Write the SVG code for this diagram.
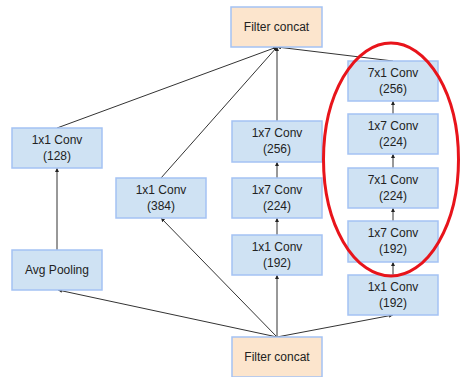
<svg xmlns="http://www.w3.org/2000/svg" width="460" height="377" viewBox="0 0 460 377">
<defs>
<style>
.box{fill:#cfe2f3;stroke:#a4c2f4;stroke-width:1.5}
.cat{fill:#fce5cd;stroke:#a4c2f4;stroke-width:1.5}
text{font-family:"Liberation Sans",Arial,sans-serif;font-size:12px;fill:#222;text-anchor:middle}
.e{stroke:#333;stroke-width:1;fill:none;marker-end:url(#ah)}
</style>
<marker id="ah" viewBox="0 0 6 6" refX="6" refY="3" markerWidth="4" markerHeight="4" orient="auto" markerUnits="userSpaceOnUse">
<path d="M0,0 L6,3 L0,6 z" fill="#222"/>
</marker>
</defs>
<rect width="460" height="377" fill="#fff"/>
<g id="connectors">
<line class="e" x1="277" y1="337" x2="58" y2="290"/>
<line class="e" x1="277" y1="337" x2="161" y2="218"/>
<line class="e" x1="277" y1="337" x2="277" y2="275"/>
<line class="e" x1="277" y1="337" x2="393" y2="315"/>
<line class="e" x1="57" y1="250" x2="57" y2="168"/>
<line class="e" x1="57" y1="128" x2="277" y2="47"/>
<line class="e" x1="161" y1="178" x2="277" y2="47"/>
<line class="e" x1="277" y1="121" x2="277" y2="47"/>
<line class="e" x1="393" y1="61" x2="277" y2="47"/>
<line class="e" x1="277" y1="235" x2="277" y2="218"/>
<line class="e" x1="277" y1="178" x2="277" y2="162"/>
<line class="e" x1="393" y1="275" x2="393" y2="262"/>
<line class="e" x1="393" y1="221" x2="393" y2="208"/>
<line class="e" x1="393" y1="168" x2="393" y2="154"/>
<line class="e" x1="393" y1="114" x2="393" y2="101"/>
</g>
<g id="concat_top"><rect class="cat" x="231" y="7" width="91" height="40"/><text x="276.5" y="31">Filter concat</text></g>
<g id="concat_bottom"><rect class="cat" x="232" y="337" width="90" height="40"/><text x="277" y="361">Filter concat</text></g>
<g id="b1_conv"><rect class="box" x="12" y="128" width="90" height="40"/><text x="57" y="144">1x1 Conv</text><text x="57" y="160">(128)</text></g>
<g id="b1_pool"><rect class="box" x="12" y="250" width="90" height="40"/><text x="57" y="274">Avg Pooling</text></g>
<g id="b2_conv"><rect class="box" x="116" y="178" width="90" height="40"/><text x="161" y="194">1x1 Conv</text><text x="161" y="210">(384)</text></g>
<g id="b3_c1"><rect class="box" x="232" y="235" width="90" height="40"/><text x="277" y="251">1x1 Conv</text><text x="277" y="267">(192)</text></g>
<g id="b3_c2"><rect class="box" x="232" y="178" width="90" height="40"/><text x="277" y="194">1x7 Conv</text><text x="277" y="210">(224)</text></g>
<g id="b3_c3"><rect class="box" x="232" y="121" width="90" height="41"/><text x="277" y="137">1x7 Conv</text><text x="277" y="153">(256)</text></g>
<g id="b4_c1"><rect class="box" x="348" y="275" width="90" height="40"/><text x="393" y="291">1x1 Conv</text><text x="393" y="307">(192)</text></g>
<g id="b4_c2"><rect class="box" x="348" y="221" width="90" height="41"/><text x="393" y="237">1x7 Conv</text><text x="393" y="253">(192)</text></g>
<g id="b4_c3"><rect class="box" x="348" y="168" width="90" height="40"/><text x="393" y="184">7x1 Conv</text><text x="393" y="200">(224)</text></g>
<g id="b4_c4"><rect class="box" x="348" y="114" width="90" height="40"/><text x="393" y="130">1x7 Conv</text><text x="393" y="146">(224)</text></g>
<g id="b4_c5"><rect class="box" x="348" y="61" width="90" height="40"/><text x="393" y="77">7x1 Conv</text><text x="393" y="93">(256)</text></g>
<ellipse id="highlight" cx="391" cy="159.5" rx="67.5" ry="116.5" fill="none" stroke="#e8141b" stroke-width="3"/>
</svg>
